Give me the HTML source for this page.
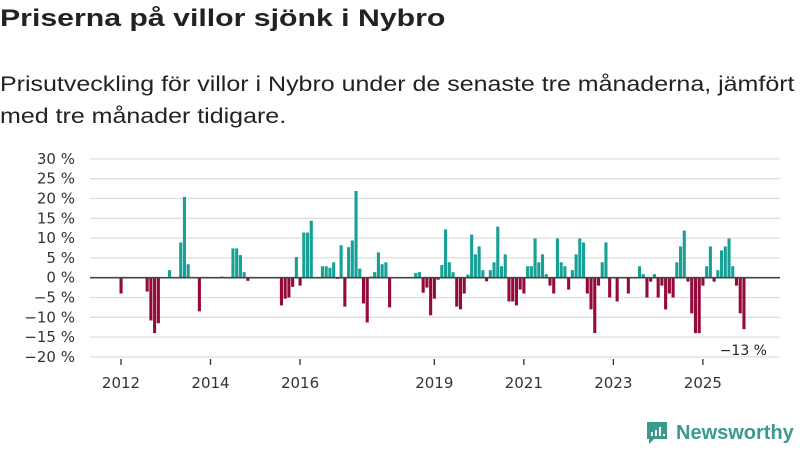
<!DOCTYPE html>
<html><head><meta charset="utf-8"><style>
body{margin:0;width:800px;height:450px;background:#fff;overflow:hidden;font-family:"Liberation Sans","DejaVu Sans",sans-serif;color:#222}
#title{position:absolute;left:0;top:5px;font-size:24px;font-weight:bold;transform-origin:0 0;transform:scaleX(1.26);white-space:nowrap}
#sub{position:absolute;left:0;top:69px;font-size:21px;line-height:32px;white-space:nowrap;transform-origin:0 0;transform:scaleX(1.19)}
svg{position:absolute;left:0;top:0}
</style></head><body>
<div id="title">Priserna på villor sjönk i Nybro</div>
<div id="sub">Prisutveckling för villor i Nybro under de senaste tre månaderna, jämfört<br>med tre månader tidigare.</div>
<svg id="chart" width="800" height="450"></svg>
<script>
const yTickValues=[30,25,20,15,10,5,0,-5,-10,-15,-20];
const xTickYears=[2012,2014,2016,2019,2021,2023,2025];
const startYear=2012;
const monthIndex=[0,7,8,9,10,13,16,17,18,21,27,30,31,32,33,34,43,44,45,46,47,48,49,50,51,54,55,56,57,58,59,60,61,62,63,64,65,66,67,68,69,70,71,72,79,80,81,82,83,84,85,86,87,88,89,90,91,92,93,94,95,96,97,98,99,100,101,102,103,104,105,106,107,108,109,110,111,112,113,114,115,116,117,118,119,120,121,122,123,124,125,126,127,128,129,130,131,133,136,139,140,141,142,143,144,145,146,147,148,149,150,151,152,153,154,155,156,157,158,159,160,161,162,163,164,165,166,167];
const values=[-4,-3.5,-10.8,-14,-11.5,1.9,8.9,20.4,3.4,-8.5,0.3,7.4,7.4,5.7,1.4,-0.8,-7,-5.3,-5,-2.3,5.2,-2,11.4,11.4,14.4,2.9,2.9,2.5,3.9,-0.3,8.2,-7.3,7.7,9.4,21.9,2.3,-6.5,-11.3,0.3,1.4,6.4,3.4,3.9,-7.5,1.2,1.4,-3.8,-2.5,-9.5,-5.3,-0.5,3.2,12.2,3.9,1.4,-7.3,-8,-4,0.8,10.9,5.9,7.9,1.9,-0.9,1.9,3.9,12.9,2.9,5.9,-6,-6,-7,-3,-4,2.9,2.9,9.9,3.9,5.9,0.9,-2,-4,9.9,3.9,2.9,-3,1.9,5.9,9.9,8.9,-4,-8,-14,-2,3.9,8.9,-5,-6,-4,2.9,0.9,-5,-1,0.9,-5,-2,-8,-4,-5,3.9,7.9,11.9,-1,-9,-14,-14,-2,2.9,7.9,-1,1.9,6.9,7.9,9.9,2.9,-2,-9,-13];
const lastLabel="−13 %";
const NS="http://www.w3.org/2000/svg";
const svg=document.getElementById('chart');
const X0=90,X1=780;
function xScale(m){return 121+3.73*m;}
function yScale(v){return 277.7-v*3.96;}
function mk(tag,attrs){const e=document.createElementNS(NS,tag);for(const k in attrs)e.setAttribute(k,attrs[k]);svg.appendChild(e);return e;}
yTickValues.forEach(v=>{
  const g=mk('line',{x1:X0,x2:X1,y1:yScale(v),y2:yScale(v),stroke:'#dedede','stroke-width':1.3});
  
  
  const t=mk('text',{x:75,y:yScale(v)+5,'text-anchor':'end','font-size':15,fill:'#333','font-family':'DejaVu Sans, sans-serif'});
  t.textContent=(v<0?'−'+(-v):v)+' %';
  
  
});
xTickYears.forEach(yr=>{
  const x=xScale((yr-startYear)*12);
  const l=mk('line',{x1:x,x2:x,y1:359,y2:365,stroke:'#333','stroke-width':1.3});
  
  
  const t=mk('text',{x:x,y:388,'text-anchor':'middle','font-size':15,fill:'#333','font-family':'DejaVu Sans, sans-serif'});
  t.textContent=yr;
  
  
});
monthIndex.forEach((m,i)=>{
  const v=values[i];const x=xScale(m);
  const y0=yScale(0),y1=yScale(v);
  const r=mk('rect',{x:x-1.5,y:Math.min(y0,y1),width:3.1,height:Math.max(0.8,Math.abs(y1-y0)),fill:v>=0?'#17a096':'#940a3c'});
  
  
});
const z=mk('line',{x1:X0,x2:X1,y1:yScale(0),y2:yScale(0),stroke:'#444','stroke-width':1.6});


const lab=mk('text',{x:767,y:355,'text-anchor':'end','font-size':14,fill:'#222','font-family':'DejaVu Sans, sans-serif'});
lab.textContent=lastLabel;


</script>
<div style="position:absolute;left:645px;top:420px;height:26px;display:flex;align-items:center">
  <svg width="24" height="26" style="position:static"><path d="M2 2h20v17h-13l-5 5v-5h-2z" fill="#3a9a8c"/><rect x="6" y="12" width="2" height="4" fill="#fff"/><rect x="10" y="10" width="2" height="6" fill="#fff"/><rect x="14" y="7" width="2" height="9" fill="#fff"/><rect x="18" y="14" width="2" height="2" fill="#fff"/></svg>
  <span style="font-size:20px;font-weight:bold;color:#3a9a8c;margin-left:7px">Newsworthy</span>
</div>
</body></html>
